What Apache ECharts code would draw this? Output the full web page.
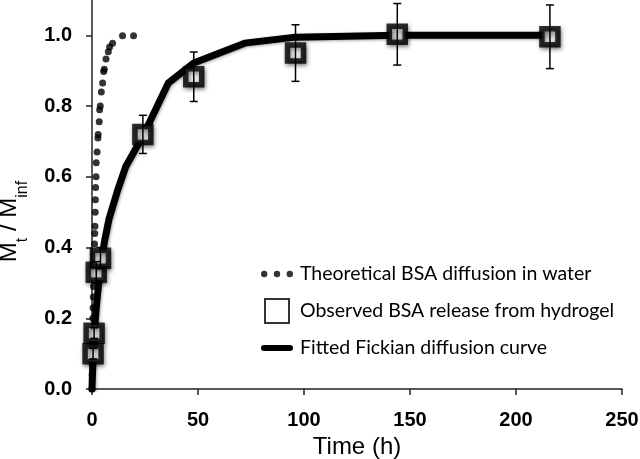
<!DOCTYPE html>
<html>
<head>
<meta charset="utf-8">
<script src="https://cdn.jsdelivr.net/npm/echarts@6/dist/echarts.min.js"></script>
<style>html,body{margin:0;padding:0;background:#fff}#c{width:640px;height:459px}</style>
</head>
<body>
<div id="c"></div>
<script>
// Theoretical BSA diffusion in water: [time h, Mt/Minf]
var theoryTime = [0,0.05,0.1,0.15,0.2,0.3,0.4,0.5,0.6,0.7,0.8,0.9,1.0,1.2,1.3,1.4,1.5,1.6,1.7,1.9,2.0,2.4,2.8,2.9,3.4,3.6,3.9,4.4,5.0,5.5,5.8,6.6,7.7,8.3,9.7,14.4,19.6];
var theoryValue = [0,0.04,0.07,0.10,0.13,0.16,0.20,0.23,0.26,0.29,0.32,0.35,0.38,0.41,0.44,0.46,0.50,0.535,0.57,0.60,0.64,0.67,0.71,0.72,0.756,0.79,0.80,0.84,0.865,0.898,0.904,0.933,0.954,0.967,0.978,0.999,0.999];
// Observed BSA release from hydrogel
var obsTime = [0.5,1,2,4,24,48,96,144,216];
var obsValue = [0.10,0.158,0.33,0.37,0.72,0.883,0.95,1.003,0.996];
var obsError = [0.015,0.015,0.03,0.03,0.054,0.07,0.08,0.087,0.09];
// Fitted Fickian diffusion curve
var fitTime = [0,0.5,1,2,4,6,8,12,16,24,36,48,72,96,144,216];
var fitValue = [0,0.09,0.15,0.23,0.35,0.42,0.48,0.56,0.63,0.715,0.865,0.922,0.978,0.995,1.0,1.0];
var yTicks = [0,0.2,0.4,0.6,0.8,1.0];

var legendNames = ['Theoretical BSA diffusion in water','Observed BSA release from hydrogel','Fitted Fickian diffusion curve'];

function pairs(a,b){return a.map(function(v,i){return [v,b[i]];});}

var chart = echarts.init(document.getElementById('c'), null, {renderer:'canvas'});
chart.setOption({
  animation:false,
  backgroundColor:'#fff',
  grid:{left:92,right:18,top:0,bottom:70,containLabel:false,outerBoundsMode:'none'},
  xAxis:{
    type:'value',min:0,max:250,interval:50,
    name:'Time (h)',nameLocation:'middle',nameGap:45,
    nameTextStyle:{fontFamily:'Liberation Sans, Arial',fontSize:24,color:'#000'},
    axisLine:{onZero:false,lineStyle:{color:'#222',width:1.5}},
    axisTick:{show:true,length:6,lineStyle:{color:'#222',width:1.5}},
    axisLabel:{margin:21,fontFamily:'Liberation Sans, Arial',fontWeight:'bold',fontSize:20,color:'#000'},
    splitLine:{show:false}
  },
  yAxis:{
    type:'value',min:0,max:1.1,
    name:'{m|M}{s|t}{m| / M}{s|inf}',nameLocation:'middle',nameGap:61,nameRotate:90,
    nameTextStyle:{padding:[0,54,0,0],rich:{
      m:{fontFamily:'Liberation Sans, Arial',fontSize:24,color:'#000',lineHeight:44,verticalAlign:'middle'},
      s:{fontFamily:'Liberation Sans, Arial',fontSize:16,color:'#000',lineHeight:16,verticalAlign:'bottom'}
    }},
    axisLine:{show:true,lineStyle:{color:'#222',width:1.5}},
    axisTick:{show:true,length:6,inside:false,customValues:yTicks,lineStyle:{color:'#222',width:1.5}},
    axisLabel:{margin:20,customValues:yTicks,fontFamily:'Liberation Sans, Arial',fontWeight:'bold',fontSize:20,color:'#000',
      formatter:function(v){return v.toFixed(1);}},
    splitLine:{show:false}
  },
  legend:{
    orient:'vertical',left:256,top:259,itemWidth:32,itemHeight:24,itemGap:14,
    textStyle:{fontFamily:'Lato',fontSize:19.5,color:'#000',padding:[0,0,0,2]},
    selectedMode:false,
    data:[
      {name:legendNames[0],icon:'path://M0,3a3,3 0 1,0 6,0a3,3 0 1,0 -6,0zM12,3a3,3 0 1,0 6,0a3,3 0 1,0 -6,0zM24,3a3,3 0 1,0 6,0a3,3 0 1,0 -6,0z',itemStyle:{color:'#000'}},
      {name:legendNames[1],icon:'path://M0,0h20v20h-20z',itemStyle:{color:'#fff',borderColor:'#000',borderWidth:2,shadowBlur:0,shadowOffsetX:0,shadowOffsetY:0}},
      {name:legendNames[2],icon:'path://M3,0h26a3,3 0 0,1 0,6h-26a3,3 0 0,1 0,-6z',itemStyle:{color:'#000'}}
    ]
  },
  series:[
    {
      name:legendNames[2],type:'line',data:pairs(fitTime,fitValue),showSymbol:false,symbol:'none',
      lineStyle:{color:'#000',width:7,cap:'round',join:'round',shadowBlur:3,shadowColor:'rgba(0,0,0,0.35)',shadowOffsetX:1,shadowOffsetY:1},
      itemStyle:{color:'#000'},z:2
    },
    {
      name:legendNames[0],type:'scatter',data:pairs(theoryTime,theoryValue),symbol:'circle',symbolSize:7,
      itemStyle:{color:'#000'},z:3
    },
    {
      name:legendNames[1],type:'scatter',data:pairs(obsTime,obsValue),symbol:'rect',symbolSize:16,
      itemStyle:{color:'#fff',borderColor:'#000',borderWidth:5.5,shadowBlur:4,shadowColor:'rgba(0,0,0,0.55)',shadowOffsetX:1,shadowOffsetY:2},z:4
    },
    {
      name:'err',type:'custom',z:5,silent:true,
      data:obsTime.map(function(t,i){return [t,obsValue[i]-obsError[i],obsValue[i]+obsError[i]];}),
      renderItem:function(params,api){
        var lo=api.coord([api.value(0),api.value(1)]);
        var hi=api.coord([api.value(0),api.value(2)]);
        var w=4;
        var st={stroke:'#000',lineWidth:1.5};
        return {type:'group',children:[
          {type:'line',shape:{x1:lo[0],y1:lo[1],x2:hi[0],y2:hi[1]},style:st},
          {type:'line',shape:{x1:lo[0]-w,y1:lo[1],x2:lo[0]+w,y2:lo[1]},style:st},
          {type:'line',shape:{x1:hi[0]-w,y1:hi[1],x2:hi[0]+w,y2:hi[1]},style:st}
        ]};
      }
    }
  ]
});
</script>
</body>
</html>
